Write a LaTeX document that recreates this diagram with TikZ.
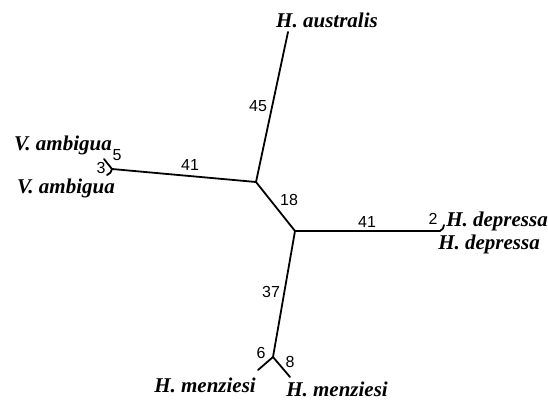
\documentclass[tikz,border=0pt]{standalone}
\usepackage{fontspec}
\setmainfont{Liberation Serif}
\newfontfamily\numfont{Liberation Sans}
\begin{document}
\begin{tikzpicture}[x=1pt,y=-1pt,
  branch/.style={line width=1.8pt, line cap=round},
  taxon/.style={font=\fontsize{21}{23}\selectfont\bfseries\itshape, inner sep=0pt},
  blen/.style={font=\numfont\fontsize{16}{17}\selectfont, inner sep=0pt}]
\useasboundingbox (0,0) rectangle (548,400);
% junctions and tips
\coordinate (T) at (288,32);
\coordinate (A) at (256,182);
\coordinate (B) at (295,231);
\coordinate (V) at (112,169);
\coordinate (V1) at (104,159);
\coordinate (V2) at (107,175);
\coordinate (D) at (440,231);
\coordinate (D1) at (444,225);
\coordinate (M) at (273,357);
\coordinate (M1) at (258,370);
\coordinate (M2) at (290,377);
% branches
\draw[branch] (T) -- (A);
\draw[branch] (V) -- (A);
\draw[branch] (A) -- (B);
\draw[branch] (B) -- (D);
\draw[branch] (B) -- (M);
\draw[branch] (V) -- (V1);
\draw[branch] (V) to[bend left=30] (V2);
\draw[branch] (D) to[bend right=30] (D1);
\draw[branch] (M) -- (M1);
\draw[branch] (M) -- (M2);
% taxa
\node[taxon] (haus) at (327,20) {H. australis};
\node[taxon] (va1) at (63,145) {V. ambigua};
\node[taxon] (va2) at (66,188) {V. ambigua};
\node[taxon] (hd1) at (497,221) {H. depressa};
\node[taxon] (hd2) at (489,244) {H. depressa};
\node[taxon] (hm1) at (205,385) {H. menziesi};
\node[taxon] (hm2) at (337,389) {H. menziesi};
% branch lengths
\node[blen] (l45) at (258,106) {45};
\node[blen] (l41a) at (190,165) {41};
\node[blen] (l18) at (289,200) {18};
\node[blen] (l41b) at (367,222) {41};
\node[blen] (l37) at (271,292) {37};
\node[blen] (l5) at (117,155) {5};
\node[blen] (l3) at (101,168) {3};
\node[blen] (l2) at (433,219) {2};
\node[blen] (l6) at (261,353) {6};
\node[blen] (l8) at (290,362) {8};
\end{tikzpicture}
\end{document}
